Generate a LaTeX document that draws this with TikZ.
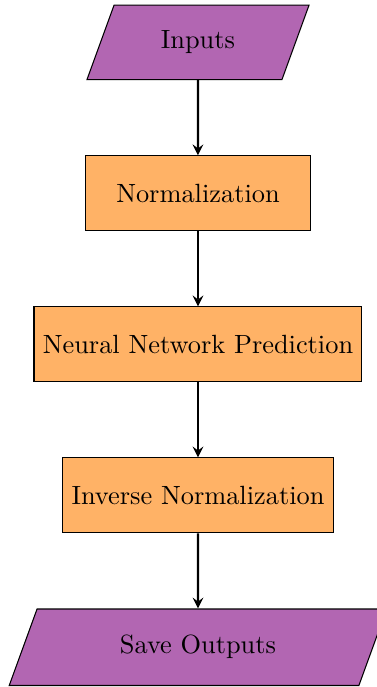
\documentclass[tikz,border=0pt]{standalone}
\usetikzlibrary{shapes.geometric,arrows,positioning}
\begin{document}
\begin{tikzpicture}[
  io/.style={trapezium, trapezium left angle=70, trapezium right angle=110,
    draw, fill=violet!60, minimum height=1cm},
  proc/.style={rectangle, draw, fill=orange!60, minimum width=3cm, minimum height=1cm},
  flow/.style={->, >=stealth, thick}]
\useasboundingbox (0,0) rectangle (143pt,-260.6pt);
\node[io, minimum width=85pt] (in) at (75.1pt,-16.1pt) {Inputs};
\node[proc, below=1cm of in] (norm) {Normalization};
\node[proc, below=1cm of norm] (nn) {Neural Network Prediction};
\node[proc, below=1cm of nn] (inv) {Inverse Normalization};
\node[io, minimum width=143.4pt, below=1cm of inv] (out) {Save Outputs};
\draw[flow] (in) -- (norm);
\draw[flow] (norm) -- (nn);
\draw[flow] (nn) -- (inv);
\draw[flow] (inv) -- (out);
\end{tikzpicture}
\end{document}
